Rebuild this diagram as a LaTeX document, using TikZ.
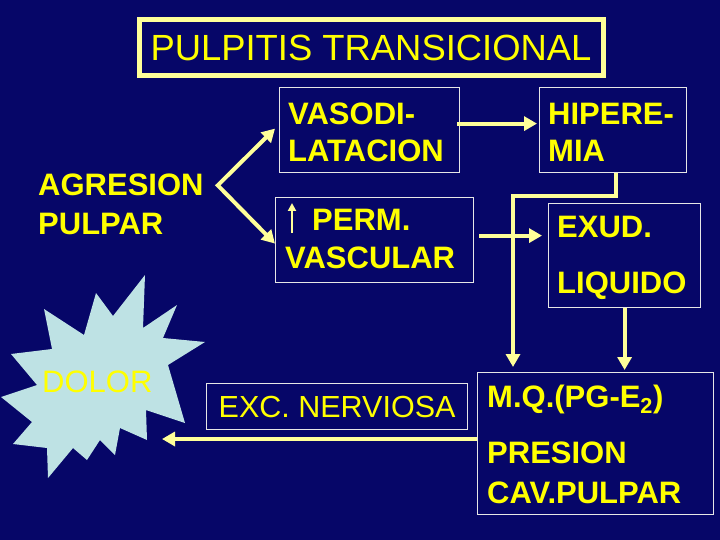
\documentclass[tikz,border=0pt]{standalone}
\usepackage{fontspec}
\setmainfont{Liberation Sans}
\usetikzlibrary{arrows.meta}
\definecolor{bgnavy}{RGB}{6,6,104}
\definecolor{ytext}{RGB}{255,255,0}
\definecolor{conncol}{RGB}{255,255,153}
\definecolor{boxline}{RGB}{230,230,230}
\definecolor{starfill}{RGB}{190,226,228}
\begin{document}
\begin{tikzpicture}[x=1pt,y=-1pt,
  txt/.style={inner sep=0pt, text=ytext, font=\fontsize{31}{37}\selectfont\bfseries, anchor=base west},
  txtreg/.style={inner sep=0pt, text=ytext, font=\fontsize{31}{37}\selectfont, anchor=base west},
  box/.style={draw=boxline, line width=1.2pt, inner sep=0pt, anchor=north west},
  conn/.style={draw=conncol, line width=4pt, line join=miter, -{Triangle[length=13pt,width=14pt]}},
  conn2/.style={draw=conncol, line width=4pt, line join=miter, {Triangle[length=13pt,width=14pt]}-{Triangle[length=13pt,width=14pt]}},
]
\fill[bgnavy] (0,0) rectangle (720,540);
\useasboundingbox (0,0) rectangle (720,540);

% title
\node[draw=conncol, line width=5pt, minimum width=464pt, minimum height=56pt, inner sep=0pt,
      text=ytext, font=\fontsize{36.4}{40}\selectfont] (title) at (371,48) {PULPITIS TRANSICIONAL};

% star
\fill[starfill] (145,275) -- (143,328) -- (177,305) -- (163,338) -- (205,342) -- (168,365)
  -- (185,423) -- (146,410) -- (147,440) -- (120,428) -- (115,455) -- (100,440) -- (87,460)
  -- (73,448) -- (48,478) -- (47,448) -- (13,444) -- (32,422) -- (1,397) -- (37,385)
  -- (11,354) -- (52,349) -- (44,309) -- (84,335) -- (96,293) -- (113,316) -- cycle;
\node[txtreg] (dolor) at (42,392) {DOLOR};

% boxes
\node[box, minimum width=180pt, minimum height=85pt] (vaso) at (279,87) {};
\node[box, minimum width=147pt, minimum height=85pt] (hiper) at (539,87) {};
\node[box, minimum width=198pt, minimum height=85pt] (perm) at (275,197) {};
\node[box, minimum width=152pt, minimum height=104pt] (exud) at (548,203) {};
\node[box, minimum width=236pt, minimum height=142pt] (mq) at (477,372) {};
\node[box, minimum width=261pt, minimum height=46pt, text=ytext,
      font=\fontsize{30.5}{36}\selectfont] (exc) at (206,383) {EXC. NERVIOSA};

% texts
\node[txt] (agr1) at (38,196) {AGRESION};
\node[txt] (agr2) at (38,235) {PULPAR};
\node[txt] (vaso1) at (288,125) {VASODI-};
\node[txt] (vaso2) at (288,162) {LATACION};
\node[txt] (hip1) at (548,125) {HIPERE-};
\node[txt] (hip2) at (548,162) {MIA};
\node[txt] (perm1) at (312,230) {PERM.};
\node[txt] (perm2) at (285,268) {VASCULAR};
\node[txt] (exud1) at (557,237) {EXUD.};
\node[txt] (exud2) at (557,293) {LIQUIDO};
\node[txt] (mq1) at (487,407) {M.Q.(PG-E\textsubscript{2})};
\node[txt] (mq2) at (487,463) {PRESION};
\node[txt] (mq3) at (487,503) {CAV.PULPAR};

% small up arrow
\draw[draw=conncol, line width=2.6pt, -{Triangle[length=8pt,width=8pt]}]
  ([xshift=-20pt,yshift=-3pt]perm1.base west) -- ++(0,-30);

% connectors
\coordinate (fork) at ([xshift=14pt]agr1.east);
\draw[conn2] ([xshift=-4pt,yshift=1.5pt]vaso.west) -- (fork) -- ([yshift=-3.5pt]perm.west);
\draw[conn] ([xshift=-3pt,yshift=6.5pt]vaso.east) -- ([xshift=-2pt,yshift=6.5pt]hiper.west);
\coordinate (pa) at ([xshift=5pt,yshift=4.5pt]perm.east);
\path (pa -| exud.west) coordinate (pb);
\draw[conn] (pa) -- ([xshift=-6pt]pb);
\coordinate (hs) at ([xshift=2.5pt]hiper.south);
\coordinate (bend) at (513,196);
\draw[conn, shorten >=5pt] (hs) |- (bend) -- (bend |- mq.north);
\draw[conn, shorten >=2pt] (exud.south) -- (exud.south |- mq.north);
\coordinate (dtip) at (162,439);
\draw[conn] (dtip -| mq.west) -- (dtip);
\end{tikzpicture}
\end{document}
